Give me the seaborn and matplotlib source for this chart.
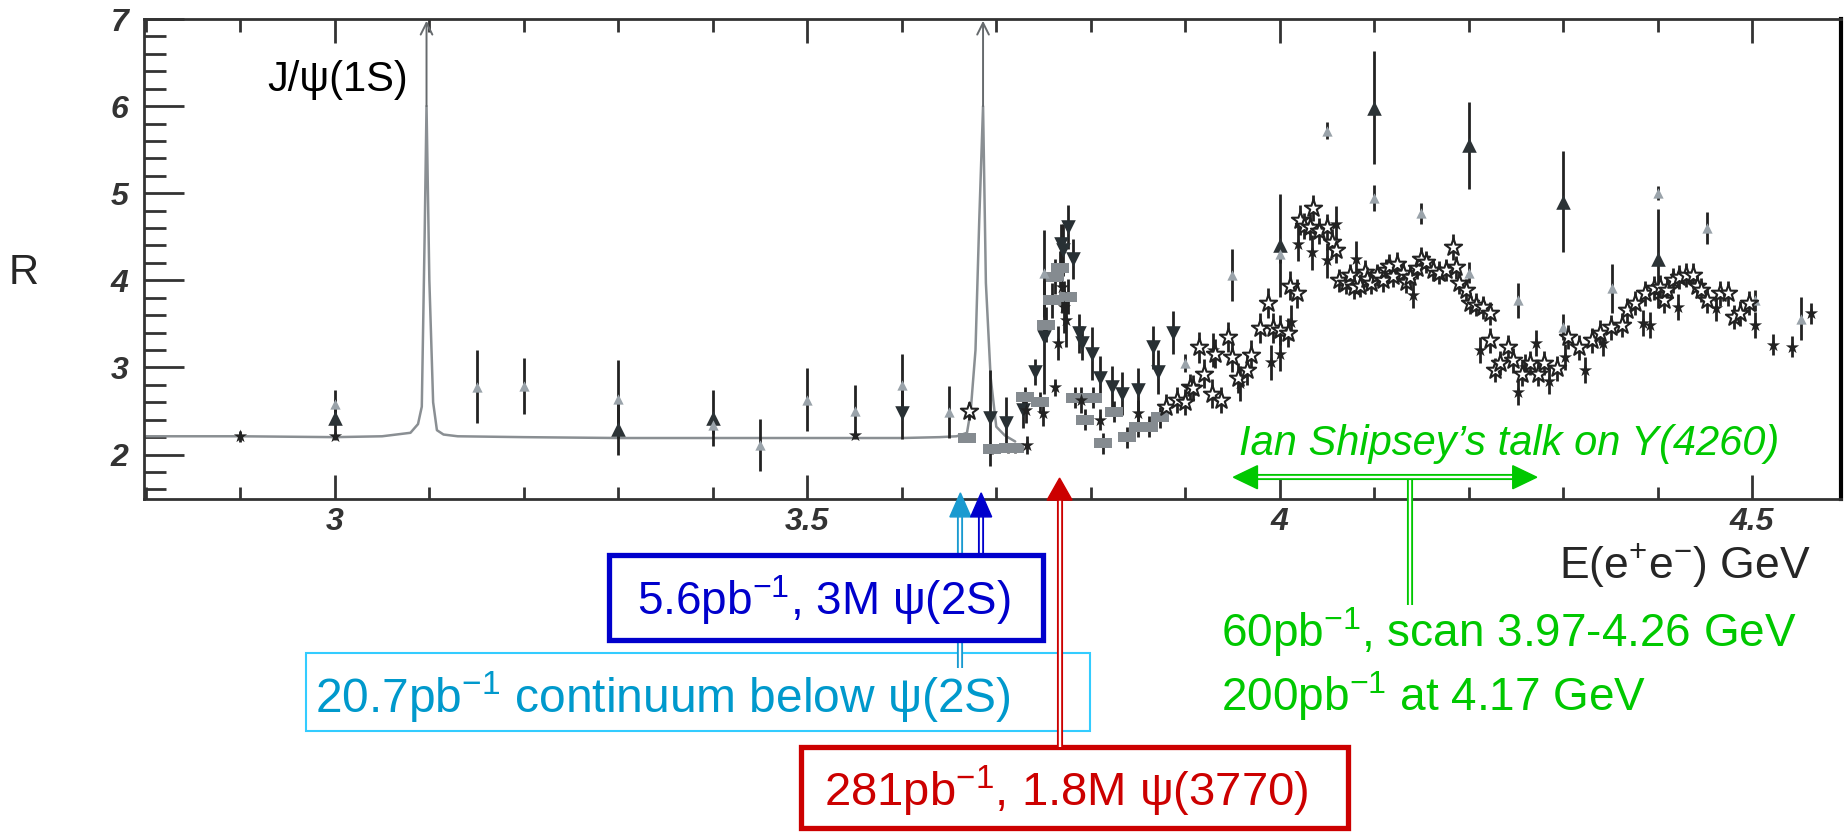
import matplotlib
matplotlib.use("Agg")
import matplotlib.pyplot as plt
import seaborn as sns
from matplotlib.patches import Rectangle, Polygon
from matplotlib.ticker import MultipleLocator, FuncFormatter

# =============================
# Data
# =============================
# smooth curve with the J/psi and psi(2S) resonances
curve_x = [2.80, 2.90, 3.00, 3.05, 3.08, 3.088, 3.092, 3.095, 3.097, 3.100, 3.104, 3.108, 3.115, 3.13,
           3.20, 3.30, 3.40, 3.50, 3.60, 3.64, 3.658, 3.669, 3.673, 3.678, 3.682, 3.686, 3.689, 3.694,
           3.700, 3.709, 3.72]
curve_y = [2.21, 2.21, 2.20, 2.21, 2.25, 2.35, 2.55, 4.50, 6.00, 4.00, 2.60, 2.28, 2.23, 2.21,
           2.20, 2.19, 2.19, 2.19, 2.19, 2.20, 2.21, 2.25, 2.51, 3.20, 4.70, 6.00, 3.97, 2.89,
           2.32, 2.22, 2.15]
peak_x = [3.097, 3.686]

# open stars
open_star_x = [3.671, 3.880, 3.891, 3.900, 3.905, 3.908, 3.915, 3.920, 3.928, 3.931, 3.938, 3.945, 3.949,
               3.956, 3.965, 3.970, 3.979, 3.988, 3.993, 4.000, 4.009, 4.011, 4.018, 4.021, 4.026, 4.032,
               4.035, 4.042, 4.050, 4.055, 4.060,
               4.063, 4.070, 4.074, 4.079, 4.085, 4.090, 4.092, 4.097, 4.103, 4.109, 4.112, 4.116, 4.120,
               4.124, 4.130, 4.134, 4.138, 4.145, 4.150, 4.155, 4.162, 4.169, 4.176, 4.183, 4.187, 4.190,
               4.197, 4.201, 4.208, 4.215, 4.222,
               4.222, 4.228, 4.233, 4.242, 4.247, 4.256, 4.265, 4.273, 4.280, 4.293, 4.305, 4.317, 4.330,
               4.339, 4.351, 4.362, 4.367, 4.376, 4.387, 4.396, 4.402, 4.407, 4.410, 4.416, 4.423, 4.430,
               4.437, 4.442, 4.446, 4.452, 4.466, 4.474, 4.481, 4.487, 4.497]
open_star_y = [2.50, 2.55, 2.63, 2.60, 2.77, 2.76, 3.23, 2.93, 2.70, 3.16, 2.63, 3.35, 3.12,
               2.88, 2.97, 3.14, 3.45, 3.74, 3.45, 3.43, 3.40, 3.94, 3.85, 4.69, 4.62, 4.61,
               4.83, 4.57, 4.61, 4.44, 4.35,
               4.00, 3.97, 4.06, 3.92, 3.94, 4.10, 4.02, 3.97, 4.06, 4.00, 4.12, 4.17, 4.05,
               4.19, 4.09, 3.98, 4.04, 4.14, 4.25, 4.21, 4.12, 4.09, 4.12, 4.38, 4.15, 3.97,
               3.89, 3.74, 3.72, 3.69, 3.62,
               3.31, 2.97, 3.05, 3.23, 3.08, 2.93, 3.05, 2.93, 3.05, 2.99, 3.35, 3.23, 3.31,
               3.40, 3.46, 3.49, 3.66, 3.74, 3.85, 3.91, 3.92, 3.77, 3.89, 4.00, 4.04, 4.06,
               4.06, 3.94, 3.89, 3.77, 3.85, 3.85, 3.58, 3.62, 3.74]
open_star_err = [0.10, 0.15, 0.15, 0.15, 0.15, 0.15, 0.18, 0.17, 0.17, 0.17, 0.15, 0.17, 0.17,
                 0.17, 0.17, 0.17, 0.17, 0.17, 0.17, 0.17, 0.17, 0.17, 0.17, 0.17, 0.15, 0.15,
                 0.15, 0.15, 0.15, 0.15, 0.15,
                 0.13, 0.13, 0.13, 0.13, 0.13, 0.13, 0.13, 0.13, 0.13, 0.13, 0.13, 0.13, 0.13,
                 0.13, 0.13, 0.13, 0.13, 0.13, 0.13, 0.13, 0.13, 0.13, 0.13, 0.15, 0.13, 0.13,
                 0.13, 0.13, 0.13, 0.13, 0.13,
                 0.14, 0.14, 0.14, 0.14, 0.14, 0.14, 0.14, 0.14, 0.14, 0.14, 0.14, 0.14, 0.14,
                 0.14, 0.14, 0.14, 0.14, 0.14, 0.14, 0.14, 0.14, 0.14, 0.14, 0.14, 0.14, 0.14,
                 0.14, 0.14, 0.14, 0.14, 0.14, 0.14, 0.14, 0.14, 0.14]

# filled stars
star_x = [2.90, 3.00, 3.55, 3.731, 3.732, 3.749, 3.762, 3.765, 3.770, 3.772, 3.774, 3.790, 3.810, 3.850,
          3.929, 3.958, 3.991, 4.000, 4.012, 4.019, 4.034, 4.050, 4.060, 4.081, 4.141, 4.212, 4.252,
          4.260, 4.271, 4.285, 4.302, 4.323, 4.342, 4.384, 4.392, 4.421, 4.462, 4.503, 4.522, 4.542, 4.562]
star_y = [2.21, 2.21, 2.22, 2.51, 2.11, 2.48, 2.77, 3.28, 3.92, 3.69, 3.54, 2.63, 2.40, 2.48,
          3.20, 2.82, 3.06, 3.16, 3.52, 4.42, 4.32, 4.23, 4.65, 4.25, 3.83, 3.20, 2.72,
          3.00, 3.28, 2.85, 3.12, 2.97, 3.28, 3.51, 3.49, 3.69, 3.68, 3.49, 3.26, 3.24, 3.62]
star_err = [0.06, 0.04, 0.04, 0.15, 0.10, 0.15, 0.10, 0.20, 0.30, 0.30, 0.30, 0.15, 0.12, 0.15,
            0.20, 0.20, 0.20, 0.20, 0.20, 0.20, 0.20, 0.20, 0.20, 0.20, 0.15, 0.15, 0.15,
            0.15, 0.15, 0.15, 0.15, 0.15, 0.15, 0.15, 0.15, 0.15, 0.15, 0.15, 0.12, 0.12, 0.12]

# inverted triangles
inv_x = [3.600, 3.693, 3.710, 3.728, 3.741, 3.751, 3.769, 3.771, 3.776, 3.781,
         3.788, 3.791, 3.801, 3.810, 3.822, 3.833, 3.850, 3.866, 3.871, 3.887]
inv_y = [2.48, 2.42, 2.36, 2.51, 2.95, 3.35, 4.42, 4.35, 4.61, 4.25,
         3.39, 3.28, 3.16, 2.88, 2.77, 2.70, 2.74, 3.23, 2.95, 3.40]
inv_err = [0.30, 0.55, 0.30, 0.20, 0.15, 0.65, 0.23, 0.30, 0.25, 0.23,
           0.22, 0.20, 0.30, 0.25, 0.25, 0.25, 0.25, 0.25, 0.25, 0.25]

# grey squares
sq_x = [3.669, 3.695, 3.712, 3.720, 3.730, 3.746, 3.753, 3.759, 3.762, 3.767,
        3.776, 3.783, 3.794, 3.802, 3.813, 3.825, 3.838, 3.850, 3.862, 3.873]
sq_y = [2.19, 2.06, 2.07, 2.07, 2.66, 2.60, 3.49, 3.77, 4.04, 4.14,
        3.81, 2.65, 2.40, 2.65, 2.13, 2.49, 2.20, 2.32, 2.32, 2.43]
sq_err = [0.03, 0.05, 0.05, 0.05, 0.12, 0.12, 0.20, 0.20, 0.20, 0.20,
          0.20, 0.12, 0.12, 0.12, 0.12, 0.12, 0.12, 0.12, 0.12, 0.12]

# dark triangles
tri_x = [3.00, 3.30, 3.40, 4.00, 4.10, 4.20, 4.30, 4.40]
tri_y = [2.42, 2.29, 2.42, 4.40, 5.98, 5.55, 4.90, 4.25]
tri_err = [0.22, 0.30, 0.32, 0.59, 0.65, 0.50, 0.58, 0.57]

# light grey triangles
ltri_x = [3.00, 3.15, 3.20, 3.30, 3.40, 3.45, 3.50, 3.55, 3.60, 3.65, 3.751, 3.90, 3.95,
          4.00, 4.05, 4.10, 4.15, 4.20, 4.252, 4.30, 4.352, 4.40, 4.452, 4.503, 4.552]
ltri_y = [2.58, 2.78, 2.79, 2.64, 2.34, 2.11, 2.63, 2.50, 2.80, 2.49, 4.08, 3.05, 4.06,
          4.30, 5.72, 4.95, 4.77, 4.09, 3.77, 3.46, 3.91, 5.00, 4.60, 3.77, 3.56]
ltri_err = [0.16, 0.42, 0.32, 0.45, 0.10, 0.30, 0.36, 0.30, 0.35, 0.30, 0.50, 0.10, 0.30,
            0.10, 0.10, 0.15, 0.12, 0.12, 0.20, 0.15, 0.28, 0.08, 0.18, 0.12, 0.25]

# arrows pointing at the energies (GeV)
cont_x = 3.662
psi2s_x = 3.684
psi3770_x = 3.767
scan_lo, scan_hi, scan_mid = 3.951, 4.272, 4.138

# =============================
# Figure
# =============================
W, H = 1847, 832
sns.set_theme(style="ticks")
plt.rcParams["font.family"] = ["Liberation Sans", "DejaVu Sans"]
plt.rcParams["mathtext.fontset"] = "custom"
plt.rcParams["mathtext.rm"] = "Liberation Sans"
plt.rcParams["mathtext.it"] = "Liberation Sans:italic"
plt.rcParams["mathtext.bf"] = "Liberation Sans:bold"

fig = plt.figure(figsize=(W / 100, H / 100), dpi=100, facecolor="white")
ax = fig.add_axes([144 / W, 1 - 499 / H, (1841 - 144) / W, (499 - 19) / H])

ink = "#222222"

sns.lineplot(x=curve_x, y=curve_y, sort=False, estimator=None, color="#8a8f93", lw=1.8, ax=ax, zorder=2)
for px in peak_x:
    ax.annotate("", xy=(px, 6.98), xytext=(px, 6.0),
                arrowprops=dict(arrowstyle="->,head_length=0.7,head_width=0.35", color="#666a6d",
                                lw=1.4, shrinkA=0, shrinkB=0))

ebar = dict(fmt="none", ecolor=ink, elinewidth=2.0, capsize=0, zorder=3)
for xs, ys, es in [(open_star_x, open_star_y, open_star_err), (star_x, star_y, star_err),
                   (inv_x, inv_y, inv_err), (sq_x, sq_y, sq_err), (tri_x, tri_y, tri_err),
                   (ltri_x, ltri_y, ltri_err)]:
    ax.errorbar(xs, ys, yerr=es, **ebar)

rect_marker = [(-1, -0.6), (1, -0.6), (1, 0.6), (-1, 0.6), (-1, -0.6)]
sns.scatterplot(x=sq_x, y=sq_y, marker=rect_marker, s=170, color="#858b90", linewidth=0, ax=ax, zorder=4)
sns.scatterplot(x=inv_x, y=inv_y, marker="v", s=110, color="#283034", linewidth=0, ax=ax, zorder=5)
sns.scatterplot(x=tri_x, y=tri_y, marker="^", s=110, color="#2c3336", linewidth=0, ax=ax, zorder=5)
sns.scatterplot(x=ltri_x, y=ltri_y, marker="^", s=55, color="#9aa3aa", linewidth=0, ax=ax, zorder=5)
sns.scatterplot(x=star_x, y=star_y, marker="*", s=100, color=ink, linewidth=0, ax=ax, zorder=5)
sns.scatterplot(x=open_star_x, y=open_star_y, marker="*", s=170, color="white", edgecolor=ink,
                linewidth=1.5, ax=ax, zorder=6)

ax.set_xlim(2.798, 4.594)
ax.set_ylim(1.49, 7.0)
ax.xaxis.set_major_locator(MultipleLocator(0.5))
ax.xaxis.set_minor_locator(MultipleLocator(0.1))
ax.yaxis.set_major_locator(MultipleLocator(1))
ax.yaxis.set_minor_locator(MultipleLocator(0.2))
ax.xaxis.set_major_formatter(FuncFormatter(lambda v, p: f"{v:g}"))
ax.yaxis.set_major_formatter(FuncFormatter(lambda v, p: f"{v:g}"))
ax.tick_params(axis="x", which="both", direction="in", top=True, bottom=True, color="#333333", width=2.0,
               labelsize=23, labelcolor="#333333", pad=6)
ax.tick_params(axis="x", which="major", length=17)
ax.tick_params(axis="x", which="minor", length=9)
ax.tick_params(axis="y", which="both", direction="in", left=True, right=False, color="#333333", width=2.0,
               labelsize=23, labelcolor="#333333", pad=11)
ax.tick_params(axis="y", which="major", length=29)
ax.tick_params(axis="y", which="minor", length=16)
for lbl in ax.get_xticklabels() + ax.get_yticklabels():
    lbl.set_fontstyle("italic")
    lbl.set_fontweight("bold")
for side in ["left", "bottom", "top"]:
    ax.spines[side].set_color("#333333")
    ax.spines[side].set_linewidth(2.0)
ax.spines["right"].set_color("black")
ax.spines["right"].set_linewidth(3.0)
ax.set_xlabel("")
ax.set_ylabel("")

ax.text(3.078, 6.3, "J/\u03c8(1S)", fontsize=30, ha="right", va="center", color="black")

# =============================
# Annotations (overlay in pixels)
# =============================
ov = fig.add_axes([0, 0, 1, 1], zorder=10)
ov.set_xlim(0, W)
ov.set_ylim(H, 0)
ov.set_axis_off()
ov.patch.set_facecolor("none")


def to_px(x, y):
    dx, dy = ax.transData.transform((x, y))
    return dx, H - dy


def dline(xs, ys, color, z=3):
    ov.plot(xs, ys, color=color, lw=4.4, solid_capstyle="butt", zorder=z)
    ov.plot(xs, ys, color="white", lw=1.7, solid_capstyle="butt", zorder=z)


def vhead(x, tip, base, w, color, z=4):
    ov.add_patch(Polygon([(x - w / 2, base), (x + w / 2, base), (x, tip)], closed=True, color=color, zorder=z))


def hhead(tip, base, y, h, color, z=4):
    ov.add_patch(Polygon([(base, y - h / 2), (base, y + h / 2), (tip, y)], closed=True, color=color, zorder=z))


fig.text(24 / W, 1 - 273 / H, "R", fontsize=30, ha="center", va="center")
fig.text(1559 / W, 1 - 565 / H, "E(e$^{+}$e$^{-}$) GeV", fontsize=32, ha="left", va="center")

cblue, dblue, red, green = "#1a9ad0", "#0000cc", "#cc0000", "#00c800"

# light-blue arrow (continuum)
cx, ctip = to_px(cont_x, 1.56)
dline([cx, cx], [668, ctip + 24], cblue, z=2)
vhead(cx, ctip, ctip + 24, 21, cblue)
ov.add_patch(Rectangle((306, 653), 1090 - 306, 731 - 653, fill=False, ec="#33ccff", lw=1.5, zorder=1))
ov.text(663, 697, "20.7pb$^{-1}$ continuum below \u03c8(2S)", fontsize=34.5, color="#0099cc",
        ha="center", va="center", zorder=6)

# dark-blue arrow and box (psi(2S))
bx, btip = to_px(psi2s_x, 1.56)
dline([bx, bx], [555, btip + 24], dblue)
vhead(bx, btip, btip + 24, 21, dblue)
ov.add_patch(Rectangle((609, 555), 1043 - 609, 640 - 555, fc="white", ec=dblue, lw=3.8, zorder=5))
ov.text(824, 600, "5.6pb$^{-1}$, 3M \u03c8(2S)", fontsize=33, color=dblue, ha="center", va="center", zorder=6)

# red arrow and box (psi(3770))
rx, rtip = to_px(psi3770_x, 1.73)
dline([rx, rx], [747, rtip + 22], red, z=7)
vhead(rx, rtip, rtip + 22, 25, red, z=7)
ov.add_patch(Rectangle((801, 747), 1348 - 801, 828 - 747, fc="white", ec=red, lw=3.8, zorder=5))
ov.text(1066, 791, "281pb$^{-1}$, 1.8M \u03c8(3770)", fontsize=34, color=red, ha="center", va="center", zorder=6)

# green scan arrow
gl, gy = to_px(scan_lo, 1.74)
gr, _ = to_px(scan_hi, 1.74)
gm, _ = to_px(scan_mid, 1.74)
dline([gm, gm], [gy, 605], green)
dline([gl + 22, gr - 22], [gy, gy], green)
hhead(gl, gl + 24, gy, 23, green)
hhead(gr, gr - 24, gy, 23, green)
ov.text(1239, 444, "Ian Shipsey\u2019s talk on Y(4260)", fontsize=30, fontstyle="italic", color=green,
        ha="left", va="center")
ov.text(1221, 632, "60pb$^{-1}$, scan 3.97-4.26 GeV", fontsize=33, color=green, ha="left", va="center")
ov.text(1221, 696, "200pb$^{-1}$ at 4.17 GeV", fontsize=33, color=green, ha="left", va="center")

fig.savefig("out.png", dpi=100, facecolor="white")
